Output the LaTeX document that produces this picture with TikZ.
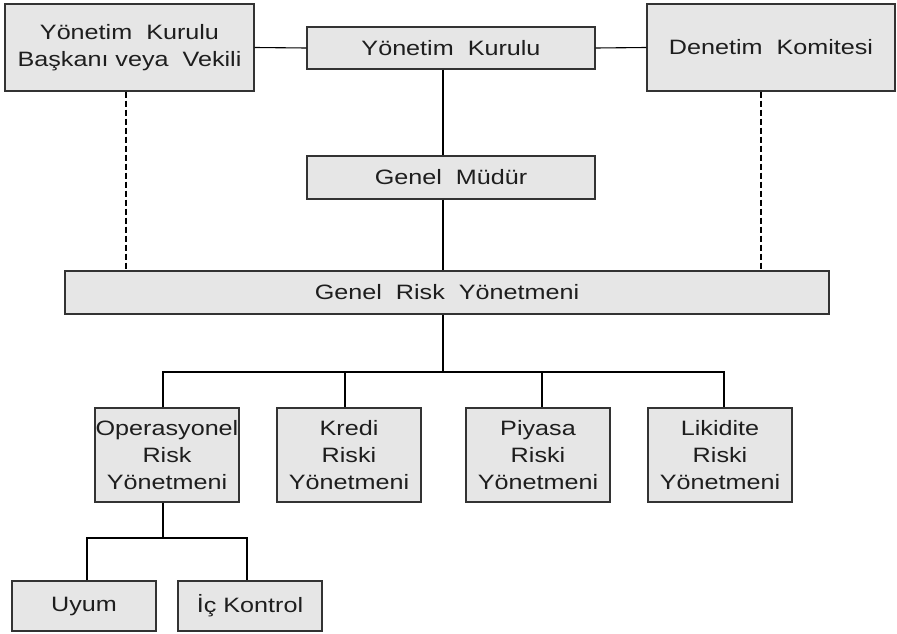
\documentclass[tikz,border=0pt]{standalone}
\usepackage{fontspec}
\setmainfont{Liberation Sans}[FakeStretch=1.21]
\definecolor{boxfill}{HTML}{E6E6E6}
\definecolor{boxline}{HTML}{333333}
\definecolor{txt}{HTML}{1E1E1E}
\begin{document}
\begin{tikzpicture}[x=1pt,y=-1pt,
  orgbox/.style={draw=boxline, fill=boxfill, line width=1.1pt, inner sep=0pt,
    align=center, text=txt, font=\fontsize{20.8}{27}\selectfont},
  link/.style={draw=black, line width=1.1pt},
  dashlink/.style={draw=black, line width=1.8pt, dash pattern=on 6pt off 3pt}]
\useasboundingbox (0,0) rectangle (897,634);
\node[orgbox, minimum width=249pt, minimum height=87pt] (bsk) at (129.5,47.5) {Yönetim~~Kurulu\\Başkanı veya~~Vekili};
\node[orgbox, minimum width=288pt, minimum height=42pt] (yk) at (451,48) {Yönetim~~Kurulu};
\node[orgbox, minimum width=248pt, minimum height=87pt] (dk) at (771,47.5) {Denetim~~Komitesi};
\node[orgbox, minimum width=288pt, minimum height=43pt] (gm) at (451,177.5) {Genel~~Müdür};
\node[orgbox, minimum width=764pt, minimum height=43pt] (grm) at (447,292.5) {Genel~~Risk~~Yönetmeni};
\node[orgbox, minimum width=144pt, minimum height=94pt] (op) at (167,455) {Operasyonel\\Risk\\Yönetmeni};
\node[orgbox, minimum width=144pt, minimum height=94pt] (kr) at (349,455) {Kredi\\Riski\\Yönetmeni};
\node[orgbox, minimum width=144pt, minimum height=94pt] (pi) at (538,455) {Piyasa\\Riski\\Yönetmeni};
\node[orgbox, minimum width=144pt, minimum height=94pt] (li) at (720,455) {Likidite\\Riski\\Yönetmeni};
\node[orgbox, minimum width=144pt, minimum height=50pt] (uy) at (84,606) {Uyum};
\node[orgbox, minimum width=144pt, minimum height=50pt] (ic) at (250,606) {İç Kontrol};
% guide coordinates
\coordinate (spine) at (443,0);
\coordinate (bus) at (0,372);
\coordinate (bustwo) at (0,538);
\coordinate (xop) at (163,0);
\coordinate (xkr) at (345,0);
\coordinate (xpi) at (542,0);
\coordinate (xli) at (724,0);
\coordinate (xuy) at (87,0);
\coordinate (xic) at (247,0);
\coordinate (xdl) at (126,0);
\coordinate (xdr) at (761,0);
% top links
\draw[link] (bsk.east) -- (yk.west);
\draw[link] (yk.east) -- (dk.west);
\draw[link] (spine |- yk.south) -- (spine |- gm.north);
\draw[link] (spine |- gm.south) -- (spine |- grm.north);
\draw[dashlink] (xdl |- bsk.south) -- (xdl |- grm.north);
\draw[dashlink] (xdr |- dk.south) -- (xdr |- grm.north);
% risk bus
\draw[link] (spine |- grm.south) -- (spine |- bus);
\draw[link] (xop |- op.north) -- (xop |- bus) -- (xli |- bus) -- (xli |- li.north);
\draw[link] (xkr |- bus) -- (xkr |- kr.north);
\draw[link] (xpi |- bus) -- (xpi |- pi.north);
% lower bus
\draw[link] (xop |- op.south) -- (xop |- bustwo);
\draw[link] (xuy |- uy.north) -- (xuy |- bustwo) -- (xic |- bustwo) -- (xic |- ic.north);
\end{tikzpicture}
\end{document}
